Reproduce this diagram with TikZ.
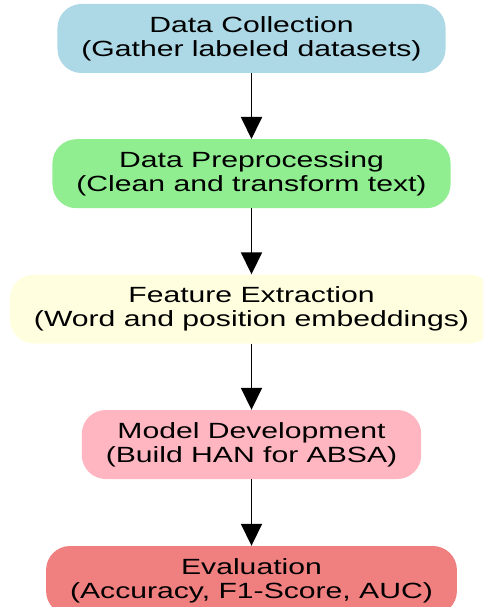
\documentclass[tikz,border=0pt]{standalone}
\usepackage{fontspec}
\setmainfont{Liberation Sans}[FakeStretch=1.37]
\usetikzlibrary{arrows.meta}

\definecolor{lightblue}{HTML}{ADD8E6}
\definecolor{lightgreen}{HTML}{90EE90}
\definecolor{lightyellow}{HTML}{FFFFE0}
\definecolor{lightpink}{HTML}{FFB6C1}
\definecolor{lightcoral}{HTML}{F08080}

\tikzset{
  stage/.style={rounded corners=24pt, minimum height=69pt, inner xsep=24pt,
    align=center, font=\fontsize{22}{24}\selectfont},
  flow/.style={line width=1.8pt, -{Triangle[width=21pt,length=22pt]}}
}

\begin{document}
\begin{tikzpicture}[x=1pt, y=-1pt]
		\useasboundingbox (0,0) rectangle (482,607);

		\node[stage, fill=lightblue] (collect) at (251.5, 38.5) {Data Collection\\(Gather labeled datasets)};
		\node[stage, fill=lightgreen] (prep) at (251.5, 173.7) {Data Preprocessing\\(Clean and transform text)};
		\node[stage, fill=lightyellow] (feat) at (251.5, 309) {Feature Extraction\\(Word and position embeddings)};
		\node[stage, fill=lightpink] (model) at (251.5, 444.5) {Model Development\\(Build HAN for ABSA)};
		\node[stage, fill=lightcoral] (eval) at (251.5, 580.5) {Evaluation\\(Accuracy, F1-Score, AUC)};

		\path (collect) edge[flow] (prep);
		\path (prep) edge[flow] (feat);
		\path (feat) edge[flow] (model);
		\path (model) edge[flow] (eval);
	\end{tikzpicture}
\end{document}
